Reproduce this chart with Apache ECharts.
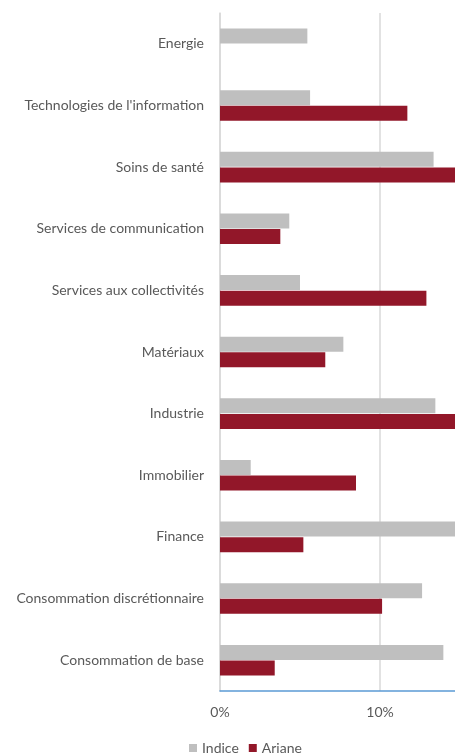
<!DOCTYPE html>
<html><head><meta charset="utf-8">
<script src="https://cdn.jsdelivr.net/npm/echarts@6/dist/echarts.min.js"></script>
<style>html,body{margin:0;padding:0;background:#fff;overflow:hidden;width:455px;height:754px}#c{width:560px;height:754px}</style>
</head><body><div id="c"></div>
<script>
const categories = ["Energie","Technologies de l'information","Soins de santé","Services de communication","Services aux collectivités","Matériaux","Industrie","Immobilier","Finance","Consommation discrétionnaire","Consommation de base"];
const indice = [5.46, 5.63, 13.35, 4.33, 5.0, 7.71, 13.46, 1.92, 15.6, 12.63, 13.96];
const ariane = [0, 11.71, 15.5, 3.77, 12.9, 6.58, 15.5, 8.5, 5.21, 10.13, 3.42];
const xTicks = [0, 10, 20];

const chart = echarts.init(document.getElementById('c'), null, {renderer:'canvas'});
const font = 'Lato';
chart.setOption({
  animation:false,
  textStyle:{fontFamily:font},
  grid:{left:220, width:320, top:13, height:678, containLabel:false, outerBoundsMode:'none'},
  legend:{
    data:['Indice','Ariane'], left:184, top:736, icon:'rect', itemWidth:8, itemHeight:8, itemGap:10,
    textStyle:{color:'#595959', fontSize:14, fontFamily:font}
  },
  xAxis:{
    type:'value', min:xTicks[0], max:xTicks[xTicks.length-1], interval:10,
    axisLine:{show:true, lineStyle:{color:'#5b9bd5', width:1.5}},
    axisTick:{show:false},
    axisLabel:{color:'#595959', fontSize:14, margin:14, formatter:v=>v+'%'},
    splitLine:{show:true, lineStyle:{color:'#d9d9d9', width:1.5}}
  },
  yAxis:{
    type:'category', data:categories, inverse:true,
    axisLine:{show:true, lineStyle:{color:'#d9d9d9', width:1.5}},
    axisTick:{show:false},
    axisLabel:{color:'#595959', fontSize:14, margin:16}
  },
  series:[
    {name:'Indice', type:'bar', data:indice, barWidth:15, barGap:'4%', itemStyle:{color:'#bfbfbf'}},
    {name:'Ariane', type:'bar', data:ariane, barWidth:15, itemStyle:{color:'#921729'}}
  ]
});
</script></body></html>
